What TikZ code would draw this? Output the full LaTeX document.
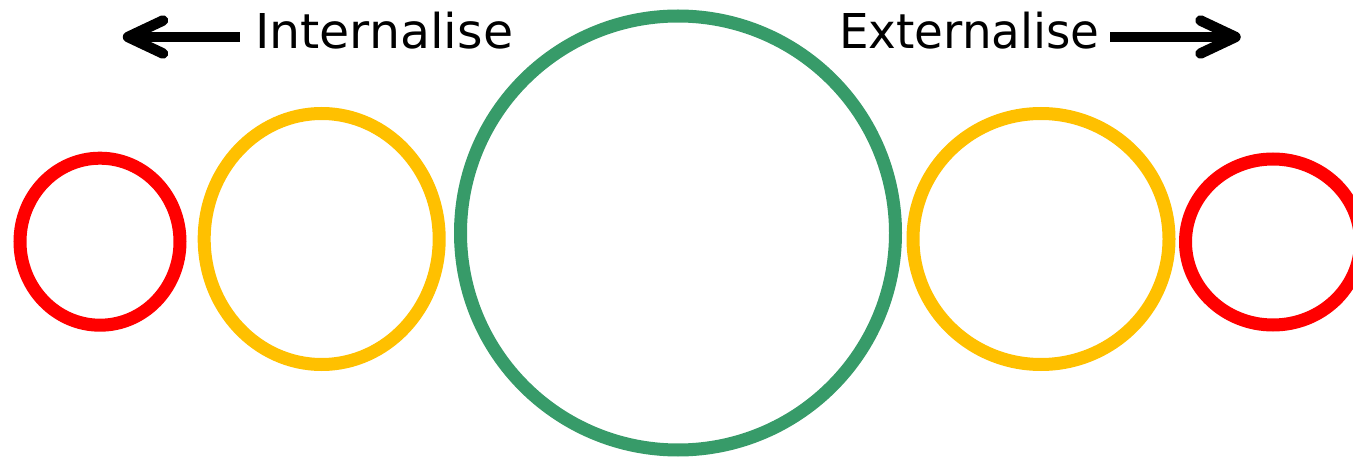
\documentclass[tikz,border=0pt]{standalone}
\usepackage{fontspec}
\setmainfont{DejaVu Sans}
\definecolor{ringred}{RGB}{255,0,0}
\definecolor{ringyellow}{RGB}{255,192,0}
\definecolor{ringgreen}{RGB}{55,155,105}
\begin{document}
\begin{tikzpicture}[x=1pt,y=-1pt,
  ring/.style={line width=13pt},
  lbl/.style={font=\fontsize{48}{52}\selectfont, inner sep=0pt, anchor=base west},
  shaft/.style={line width=10.5pt, line cap=butt},
  barb/.style={line width=10.5pt, line cap=round, line join=round}]
\useasboundingbox (0,0) rectangle (1353,457);
\clip (0,0) rectangle (1353,457);
% rings
\draw[ring, ringred] (100,241.7) ellipse [x radius=80, y radius=83.5];
\draw[ring, ringyellow] (321.7,239) ellipse [x radius=117.5, y radius=125.5];
\draw[ring, ringgreen] (678,233) ellipse [x radius=217.5, y radius=217];
\draw[ring, ringyellow] (1041,239) ellipse [x radius=128, y radius=125.5];
\draw[ring, ringred] (1273,242) ellipse [x radius=87.5, y radius=83];
% labels
\node[lbl] (int) at (255,48.3) {\scalebox{1.02}[1]{Internalise}};
\node[lbl] (ext) at (839,48.3) {\scalebox{0.975}[1]{Externalise}};
% left arrow
\coordinate (lt) at (128,37);
\coordinate (ls) at (239.5,37);
\draw[shaft] (ls) -- (lt);
\draw[barb] (lt) ++(35,-16.5) -- (lt) -- ++(35,16.5);
% right arrow
\coordinate (rt) at (1235.5,37);
\coordinate (rs) at (1110,37);
\draw[shaft] (rs) -- (rt);
\draw[barb] (rt) ++(-35,-16.5) -- (rt) -- ++(-35,16.5);
\end{tikzpicture}
\end{document}
